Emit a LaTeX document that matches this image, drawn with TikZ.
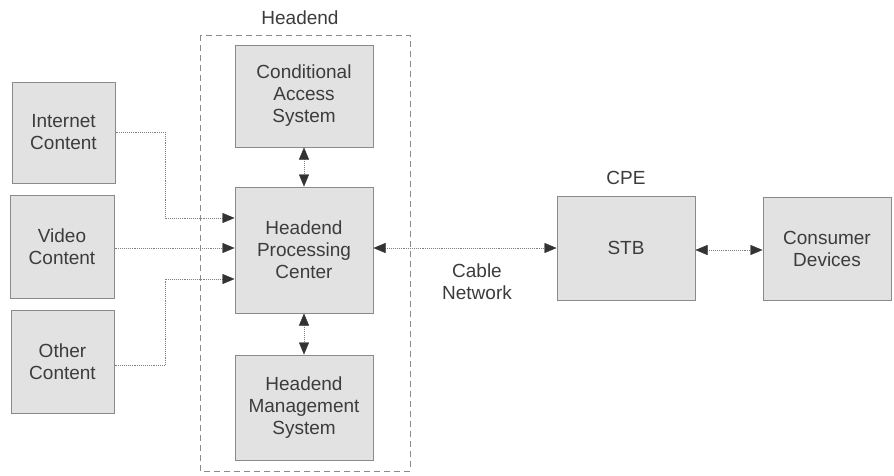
\documentclass[tikz,border=0pt]{standalone}
\usepackage{fontspec}
\setmainfont{Liberation Sans}
\usetikzlibrary{arrows.meta}
\definecolor{boxfill}{HTML}{E2E2E2}
\definecolor{boxline}{HTML}{8A8A8A}
\definecolor{txt}{HTML}{3C3C3C}
\definecolor{wire}{HTML}{808080}
\definecolor{tipc}{HTML}{333333}
\tikzset{
  blk/.style={draw=boxline, fill=boxfill, line width=1pt, inner sep=0pt,
    align=center, text=txt, font=\fontsize{19}{22}\selectfont},
  lbl/.style={text=txt, align=center, font=\fontsize{19}{22}\selectfont, inner sep=0pt},
  head/.tip={Triangle[length=12pt,width=10pt,color=tipc,fill=tipc,line width=0.4pt,sep=0pt]},
  tip/.style={-head, draw=wire, line width=0.9pt, densely dotted},
  bitip/.style={head-head, draw=wire, line width=0.9pt, densely dotted},
  plain/.style={draw=wire, line width=0.9pt, densely dotted},
}
\begin{document}
\begin{tikzpicture}[x=1pt,y=-1pt]
\useasboundingbox (0,0) rectangle (894,475);
\fill[white] (0,0) rectangle (894,475);

% headend enclosure
\draw[boxline, dash pattern=on 6pt off 4pt, line width=0.8pt] (200,35) rectangle (410,471);
\node[lbl] (headlbl) at (300,18) {Headend};

% source boxes
\node[blk, minimum width=103pt, minimum height=101pt] (inet) at (63.5,132.5) {Internet\\Content};
\node[blk, minimum width=104pt, minimum height=103pt] (video) at (62,246.5) {Video\\Content};
\node[blk, minimum width=103pt, minimum height=103pt] (other) at (62.5,361.5) {Other\\Content};

% headend blocks
\node[blk, minimum width=138pt, minimum height=102pt] (cas) at (304,96) {Conditional\\Access\\System};
\node[blk, minimum width=138pt, minimum height=126pt] (hpc) at (304,250) {Headend\\Processing\\Center};
\node[blk, minimum width=138pt, minimum height=105pt] (hms) at (304,407.5) {Headend\\Management\\System};

% customer premises
\node[blk, minimum width=138pt, minimum height=104pt] (stb) at (626,248) {STB};
\node[lbl] (cpelbl) at (626,178) {CPE};
\node[blk, minimum width=128pt, minimum height=103pt] (cons) at (827,248.5) {Consumer\\Devices};
\node[lbl] (netlbl) at (477,282) {Cable\\Network};

% inputs into the processing center
\coordinate (j1) at (165,132);
\coordinate (j3) at (165,365);
\draw[plain] (inet.east |- j1) -- (j1);
\draw[tip] (j1) |- (hpc.west |- 0,218);
\draw[tip] (video.east |- 0,248) -- (hpc.west |- 0,248);
\draw[plain] (other.east |- j3) -- (j3);
\draw[tip] (j3) |- (hpc.west |- 0,279);

% bidirectional links
\draw[bitip] (cas.south) -- (hpc.north);
\draw[bitip] (hpc.south) -- (hms.north);
\draw[bitip] (hpc.east |- 0,248) -- (stb.west |- 0,248);
\draw[bitip] (stb.east |- 0,250) -- (cons.west |- 0,250);
\end{tikzpicture}
\end{document}
